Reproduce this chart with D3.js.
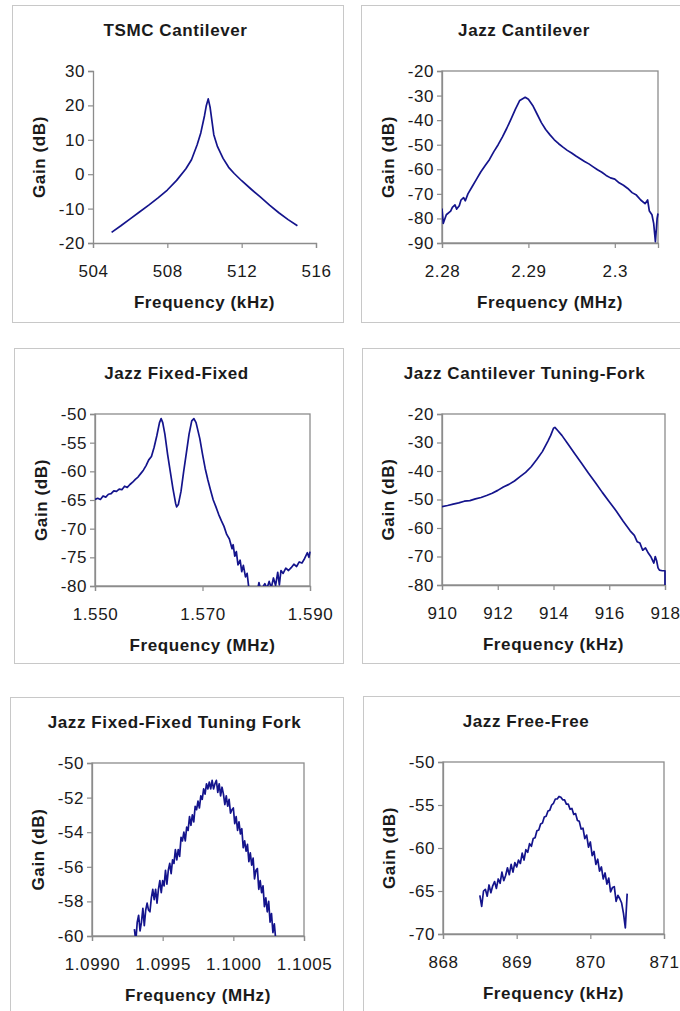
<!DOCTYPE html>
<html>
<head>
<meta charset="utf-8">
<script src="https://cdn.jsdelivr.net/npm/d3@7"></script>
<style>
  html, body { margin: 0; padding: 0; background: #fff; }
  svg { display: block; }
  text { font-family: "Liberation Sans", Arial, sans-serif; fill: #1a1a1a; }
</style>
</head>
<body>
<svg id="chart" width="680" height="1011"></svg>
<script>
// ---------------- DATA ----------------
const titles = ["TSMC Cantilever", "Jazz Cantilever", "Jazz Fixed-Fixed",
                "Jazz Cantilever Tuning-Fork", "Jazz Fixed-Fixed Tuning Fork", "Jazz Free-Free"];
const xTitles = ["Frequency (kHz)", "Frequency (MHz)", "Frequency (MHz)",
                 "Frequency (kHz)", "Frequency (MHz)", "Frequency (kHz)"];
const yTitle = "Gain (dB)";

// TSMC Cantilever: [kHz, dB]
const tsmcData = [
  [505.0,-16.9],[505.5,-15.0],[506.0,-13.0],[506.5,-11.0],[507.0,-9.0],[507.5,-6.9],
  [508.0,-4.6],[508.5,-1.8],[509.0,1.6],[509.3,4.2],[509.6,8.5],[509.8,12.0],
  [510.0,17.0],[510.1,20.0],[510.2,21.9],[510.3,19.5],[510.4,15.5],[510.5,11.5],
  [510.7,8.0],[511.0,4.6],[511.3,2.0],[511.6,0.2],[512.0,-1.9],[512.5,-4.3],
  [513.0,-6.6],[513.5,-9.0],[514.0,-11.2],[514.5,-13.2],[515.0,-15.0]
];
const tsmcXTicks = [504, 508, 512, 516];
const tsmcXLabels = ["504", "508", "512", "516"];
const tsmcYTicks = [-20, -10, 0, 10, 20, 30];
const tsmcYLabels = ["-20", "-10", "0", "10", "20", "30"];

// Jazz Cantilever: [MHz, dB]
const jazzCantData = [
  [2.2800,-76.0],[2.28015,-82.0],[2.2805,-78.5],[2.2810,-77.0],[2.2812,-75.5],[2.2815,-74.5],
  [2.2817,-76.2],[2.2820,-74.8],[2.2822,-72.5],[2.2825,-71.5],[2.2827,-72.8],[2.2830,-70.0],
  [2.2835,-67.0],[2.2840,-64.0],[2.2845,-61.0],[2.2850,-58.5],[2.2855,-56.0],[2.2860,-52.8],
  [2.2865,-50.0],[2.2870,-46.8],[2.2875,-43.3],[2.2880,-39.5],[2.2885,-35.5],[2.2890,-32.0],
  [2.28963,-30.7],[2.2900,-31.5],[2.2905,-34.0],[2.2910,-37.5],[2.2915,-41.0],[2.2920,-43.8],
  [2.2925,-46.0],[2.2930,-48.0],[2.2935,-49.6],[2.2940,-51.0],[2.2945,-52.3],[2.2950,-53.4],
  [2.2955,-54.6],[2.2960,-55.7],[2.2965,-56.8],[2.2970,-57.8],[2.2975,-59.0],[2.2980,-60.2],
  [2.2985,-61.2],[2.2990,-62.5],[2.2995,-63.5],[2.3000,-64.0],[2.3005,-65.5],[2.3010,-66.5],
  [2.3015,-67.8],[2.3020,-69.5],[2.3025,-70.5],[2.3030,-72.5],[2.3035,-74.0],[2.3038,-72.5],
  [2.3040,-77.0],[2.3043,-78.5],[2.3045,-82.0],[2.3047,-89.5],[2.3049,-80.0],[2.3050,-78.0]
];
const jazzCantXTicks = [2.28, 2.29, 2.30];
const jazzCantXLabels = ["2.28", "2.29", "2.3"];
const jazzCantYTicks = [-90, -80, -70, -60, -50, -40, -30, -20];
const jazzCantYLabels = ["-90", "-80", "-70", "-60", "-50", "-40", "-30", "-20"];

// Jazz Fixed-Fixed: [MHz, dB]
const fixedData = [
  [1.5500,-64.9],[1.5505,-64.7],[1.5510,-64.9],[1.5515,-64.3],[1.5520,-64.5],[1.5525,-64.0],
  [1.5530,-63.9],[1.5535,-63.4],[1.5540,-63.5],[1.5545,-63.1],[1.5550,-63.2],[1.5555,-62.6],
  [1.5560,-62.8],[1.5565,-62.3],[1.5570,-61.9],[1.5575,-61.4],[1.5580,-61.0],[1.5585,-60.4],
  [1.5590,-59.8],[1.5595,-59.0],[1.5600,-58.0],[1.5605,-57.4],[1.5610,-55.8],[1.5615,-53.8],
  [1.5620,-51.5],[1.5623,-50.8],[1.5626,-51.5],[1.5630,-53.5],[1.5635,-57.0],[1.5640,-60.0],
  [1.5645,-63.0],[1.5650,-65.6],[1.5652,-66.2],[1.5655,-65.8],[1.5660,-63.5],[1.5665,-60.0],
  [1.5670,-56.8],[1.5675,-53.5],[1.5680,-51.2],[1.5684,-50.8],[1.5688,-51.5],[1.5695,-54.3],
  [1.5700,-57.0],[1.5705,-59.5],[1.5710,-61.5],[1.5715,-63.3],[1.5720,-65.0],[1.5725,-66.2],
  [1.5730,-67.5],[1.5735,-68.6],[1.5740,-69.6],[1.5745,-71.0],[1.5750,-71.8],[1.5755,-73.5],
  [1.5757,-72.8],[1.5760,-74.8],[1.5763,-74.0],[1.5766,-76.3],[1.5770,-75.5],[1.5773,-77.5],
  [1.5776,-76.4],[1.5780,-78.4],[1.5783,-77.8],[1.5786,-80.2],[1.5790,-81.0],[1.5800,-82.0],
  [1.5805,-79.4],[1.5808,-80.5],[1.5812,-80.2],[1.5816,-79.6],[1.5820,-80.4],[1.5824,-79.2],
  [1.5828,-80.3],[1.5832,-78.6],[1.5836,-79.9],[1.5840,-77.6],[1.5843,-79.8],[1.5846,-77.3],
  [1.5850,-77.8],[1.5855,-76.9],[1.5860,-77.3],[1.5865,-76.8],[1.5870,-76.2],[1.5875,-76.6],
  [1.5880,-75.8],[1.5885,-76.0],[1.5890,-75.2],[1.5895,-74.2],[1.5898,-75.0],[1.5900,-74.0]
];
const fixedXTicks = [1.55, 1.57, 1.59];
const fixedXLabels = ["1.550", "1.570", "1.590"];
const fixedYTicks = [-80, -75, -70, -65, -60, -55, -50];
const fixedYLabels = ["-80", "-75", "-70", "-65", "-60", "-55", "-50"];

// Jazz Cantilever Tuning-Fork: [kHz, dB]
const forkData = [
  [910.0,-52.5],[910.2,-52.1],[910.4,-51.6],[910.6,-51.2],[910.8,-50.6],[911.0,-50.4],
  [911.2,-49.8],[911.4,-49.3],[911.6,-48.6],[911.8,-47.8],[912.0,-46.8],[912.2,-45.6],
  [912.4,-44.7],[912.6,-43.5],[912.8,-42.0],[913.0,-40.5],[913.2,-38.5],[913.4,-36.0],
  [913.6,-33.2],[913.8,-29.5],[913.9,-27.5],[914.0,-25.0],[914.05,-24.7],[914.15,-25.8],
  [914.3,-27.5],[914.5,-30.3],[914.75,-33.8],[915.0,-37.2],[915.25,-40.7],[915.5,-44.0],
  [915.75,-47.5],[916.0,-50.8],[916.25,-54.0],[916.5,-57.6],[916.75,-61.0],[916.9,-62.6],
  [917.0,-64.8],[917.1,-65.3],[917.2,-67.8],[917.3,-67.0],[917.4,-68.8],[917.5,-70.2],
  [917.6,-72.3],[917.65,-70.0],[917.7,-71.5],[917.75,-74.0],[917.8,-74.8],[917.9,-75.0],
  [918.0,-75.0],[918.0,-80.0]
];
const forkXTicks = [910, 912, 914, 916, 918];
const forkXLabels = ["910", "912", "914", "916", "918"];
const forkYTicks = [-80, -70, -60, -50, -40, -30, -20];
const forkYLabels = ["-80", "-70", "-60", "-50", "-40", "-30", "-20"];

// Jazz Fixed-Fixed Tuning Fork: [MHz, dB]
const ffForkData = [
  [1.09930,-59.6],[1.09931,-60.3],[1.09932,-59.2],[1.09933,-58.8],[1.09934,-59.7],[1.09935,-59.2],
  [1.09936,-58.4],[1.09937,-59.4],[1.09938,-58.5],[1.09939,-58.1],[1.09940,-58.5],[1.09941,-58.6],
  [1.09942,-57.8],[1.09943,-57.3],[1.09944,-57.9],[1.09945,-57.3],[1.09946,-58.1],[1.09947,-57.3],
  [1.09948,-56.8],[1.09949,-57.5],[1.09950,-56.8],[1.09951,-57.1],[1.09952,-56.2],[1.09953,-57.0],
  [1.09954,-56.2],[1.09955,-55.8],[1.09956,-56.4],[1.09957,-55.6],[1.09958,-55.8],[1.09959,-55.0],
  [1.09960,-55.6],[1.09961,-55.0],[1.09962,-55.4],[1.09963,-54.3],[1.09964,-54.5],[1.09965,-54.0],
  [1.09966,-54.5],[1.09967,-53.7],[1.09968,-53.9],[1.09969,-53.1],[1.09970,-53.6],[1.09971,-53.0],
  [1.09972,-53.4],[1.09973,-52.5],[1.09974,-52.7],[1.09975,-52.2],[1.09976,-52.6],[1.09977,-51.9],
  [1.09978,-52.1],[1.09979,-51.5],[1.09980,-51.8],[1.09981,-51.2],[1.09982,-51.5],[1.09983,-51.1],
  [1.09984,-51.5],[1.09985,-51.0],[1.09986,-51.5],[1.09987,-51.2],[1.09988,-51.0],[1.09989,-51.7],
  [1.09990,-51.2],[1.09991,-51.9],[1.09992,-51.4],[1.09993,-51.8],[1.09994,-52.4],[1.09995,-51.9],
  [1.09996,-52.5],[1.09997,-52.1],[1.09998,-52.9],[1.09999,-52.7],[1.10000,-52.6],[1.10001,-53.5],
  [1.10002,-53.1],[1.10003,-53.9],[1.10004,-53.4],[1.10005,-54.1],[1.10006,-53.8],[1.10007,-54.9],
  [1.10008,-54.5],[1.10009,-55.1],[1.10010,-54.7],[1.10011,-55.7],[1.10012,-55.2],[1.10013,-55.9],
  [1.10014,-55.5],[1.10015,-56.7],[1.10016,-56.2],[1.10017,-56.1],[1.10018,-57.3],[1.10019,-56.8],
  [1.10020,-57.5],[1.10021,-57.1],[1.10022,-58.3],[1.10023,-57.8],[1.10024,-58.6],[1.10025,-58.0],
  [1.10026,-59.2],[1.10027,-58.7],[1.10028,-59.8],[1.10029,-59.3],[1.10030,-60.2]
];
const ffForkXTicks = [1.0990, 1.0995, 1.1000, 1.1005];
const ffForkXLabels = ["1.0990", "1.0995", "1.1000", "1.1005"];
const ffForkYTicks = [-60, -58, -56, -54, -52, -50];
const ffForkYLabels = ["-60", "-58", "-56", "-54", "-52", "-50"];

// Jazz Free-Free: [kHz, dB]
const freeData = [
  [868.500,-65.5],[868.525,-66.8],[868.550,-65.0],[868.575,-64.8],[868.600,-65.6],[868.625,-64.3],
  [868.650,-65.2],[868.675,-64.4],[868.700,-63.9],[868.725,-64.7],[868.750,-63.6],[868.775,-64.1],
  [868.800,-62.8],[868.825,-63.8],[868.850,-63.2],[868.875,-62.3],[868.900,-63.1],[868.925,-61.9],
  [868.950,-62.8],[868.975,-61.7],[869.000,-62.2],[869.025,-61.4],[869.050,-61.8],[869.075,-60.6],
  [869.100,-61.4],[869.125,-60.2],[869.150,-60.5],[869.175,-59.5],[869.200,-59.8],[869.225,-58.9],
  [869.250,-58.8],[869.275,-58.0],[869.300,-57.9],[869.325,-57.2],[869.350,-57.1],[869.375,-56.4],
  [869.400,-56.3],[869.425,-55.7],[869.450,-55.6],[869.475,-55.0],[869.500,-54.8],[869.525,-54.3],
  [869.550,-54.3],[869.575,-54.0],[869.600,-54.1],[869.625,-54.4],[869.650,-54.4],[869.675,-54.9],
  [869.700,-54.9],[869.725,-55.5],[869.750,-55.4],[869.775,-56.1],[869.800,-56.0],[869.825,-56.8],
  [869.850,-56.9],[869.875,-57.8],[869.900,-57.7],[869.925,-58.9],[869.950,-58.5],[869.975,-59.9],
  [870.000,-59.3],[870.025,-60.9],[870.050,-60.4],[870.075,-61.9],[870.100,-61.3],[870.125,-62.7],
  [870.150,-62.2],[870.175,-63.6],[870.200,-62.9],[870.225,-64.2],[870.250,-63.5],[870.275,-65.1],
  [870.300,-64.6],[870.325,-64.5],[870.350,-66.2],[870.375,-65.5],[870.400,-65.9],[870.425,-66.4],
  [870.450,-67.6],[870.475,-69.3],[870.500,-65.3]
];
const freeXTicks = [868, 869, 870, 871];
const freeXLabels = ["868", "869", "870", "871"];
const freeYTicks = [-70, -65, -60, -55, -50];
const freeYLabels = ["-70", "-65", "-60", "-55", "-50"];

// ---------------- LAYOUT ----------------
const panels = [
  { title: titles[0], xTitle: xTitles[0], data: tsmcData, xT: tsmcXTicks, xL: tsmcXLabels, yT: tsmcYTicks, yL: tsmcYLabels,
    xDom: [504, 516], box: [12, 5, 331, 317], plot: [93, 71, 316, 243], frame: false },
  { title: titles[1], xTitle: xTitles[1], data: jazzCantData, xT: jazzCantXTicks, xL: jazzCantXLabels, yT: jazzCantYTicks, yL: jazzCantYLabels,
    xDom: [2.28, 2.305], box: [361, 5, 330, 317], plot: [442, 71, 658, 243], frame: true },
  { title: titles[2], xTitle: xTitles[2], data: fixedData, xT: fixedXTicks, xL: fixedXLabels, yT: fixedYTicks, yL: fixedYLabels,
    xDom: [1.55, 1.59], box: [14, 348, 329, 315], plot: [95, 414, 310, 586], frame: true },
  { title: titles[3], xTitle: xTitles[3], data: forkData, xT: forkXTicks, xL: forkXLabels, yT: forkYTicks, yL: forkYLabels,
    xDom: [910, 918], box: [362, 348, 329, 315], plot: [442, 414, 665, 585], frame: true },
  { title: titles[4], xTitle: xTitles[4], data: ffForkData, xT: ffForkXTicks, xL: ffForkXLabels, yT: ffForkYTicks, yL: ffForkYLabels,
    xDom: [1.0990, 1.1005], box: [10, 697, 333, 340], plot: [92, 763, 304, 936], frame: true },
  { title: titles[5], xTitle: xTitles[5], data: freeData, xT: freeXTicks, xL: freeXLabels, yT: freeYTicks, yL: freeYLabels,
    xDom: [868, 871], box: [363, 696, 330, 340], plot: [443, 762, 664, 934], frame: true }
];

const svg = d3.select("#chart");
const AXIS = "#8c8c8c";
const LINE = "#14148c";

panels.forEach((p, i) => {
  const [bx, by, bw, bh] = p.box;
  const [pl, pt, pr, pb] = p.plot;
  const g = svg.append("g");

  g.append("rect").attr("x", bx + 0.5).attr("y", by + 0.5).attr("width", bw).attr("height", bh)
    .attr("fill", "#fff").attr("stroke", "#c8c8c8").attr("stroke-width", 1);

  const x = d3.scaleLinear().domain(p.xDom).range([pl, pr]);
  const y = d3.scaleLinear().domain([p.yT[0], p.yT[p.yT.length - 1]]).range([pb, pt]);

  // title
  g.append("text").attr("x", bx + bw / 2 - 2).attr("y", by + 31)
    .attr("text-anchor", "middle").attr("font-size", 17).attr("font-weight", "bold")
    .attr("letter-spacing", 0.6).text(p.title);

  // frame
  if (p.frame) {
    g.append("rect").attr("x", pl).attr("y", pt).attr("width", pr - pl).attr("height", pb - pt)
      .attr("fill", "none").attr("stroke", AXIS).attr("stroke-width", 1.3);
  }

  // axes
  const yAxis = d3.axisLeft(y).tickValues(p.yT).tickFormat((d, k) => p.yL[k]).tickSize(5).tickPadding(3);
  const xAxis = d3.axisBottom(x).tickValues(p.xT).tickFormat((d, k) => p.xL[k]).tickSize(5).tickPadding(17);

  const ya = g.append("g").attr("transform", `translate(${pl},0)`).call(yAxis);
  const xa = g.append("g").attr("transform", `translate(0,${pb})`).call(xAxis);
  [ya, xa].forEach(a => {
    a.select(".domain").attr("stroke", AXIS).attr("stroke-width", 1.3);
    a.selectAll(".tick line").attr("stroke", AXIS).attr("stroke-width", 1.2);
    a.selectAll(".tick text").attr("font-size", 17).attr("fill", "#1a1a1a")
      .attr("letter-spacing", 0.6).style("font-family", "'Liberation Sans', Arial, sans-serif");
  });

  // axis titles
  g.append("text").attr("x", (pl + pr) / 2).attr("y", pb + 65)
    .attr("text-anchor", "middle").attr("font-size", 17).attr("font-weight", "bold")
    .attr("letter-spacing", 0.6).text(p.xTitle);
  g.append("text").attr("transform", `translate(${pl - 48},${(pt + pb) / 2}) rotate(-90)`)
    .attr("text-anchor", "middle").attr("font-size", 17).attr("font-weight", "bold")
    .attr("letter-spacing", 0.6).text(yTitle);

  // clip & line
  const cid = "clip" + i;
  svg.append("clipPath").attr("id", cid).append("rect")
    .attr("x", pl).attr("y", pt - 1).attr("width", pr - pl + 1).attr("height", pb - pt + 1);
  const line = d3.line().x(d => x(d[0])).y(d => y(d[1]));
  g.append("path").datum(p.data).attr("d", line).attr("clip-path", `url(#${cid})`)
    .attr("fill", "none").attr("stroke", LINE).attr("stroke-width", 1.7)
    .attr("stroke-linejoin", "round");
});
</script>
</body>
</html>
